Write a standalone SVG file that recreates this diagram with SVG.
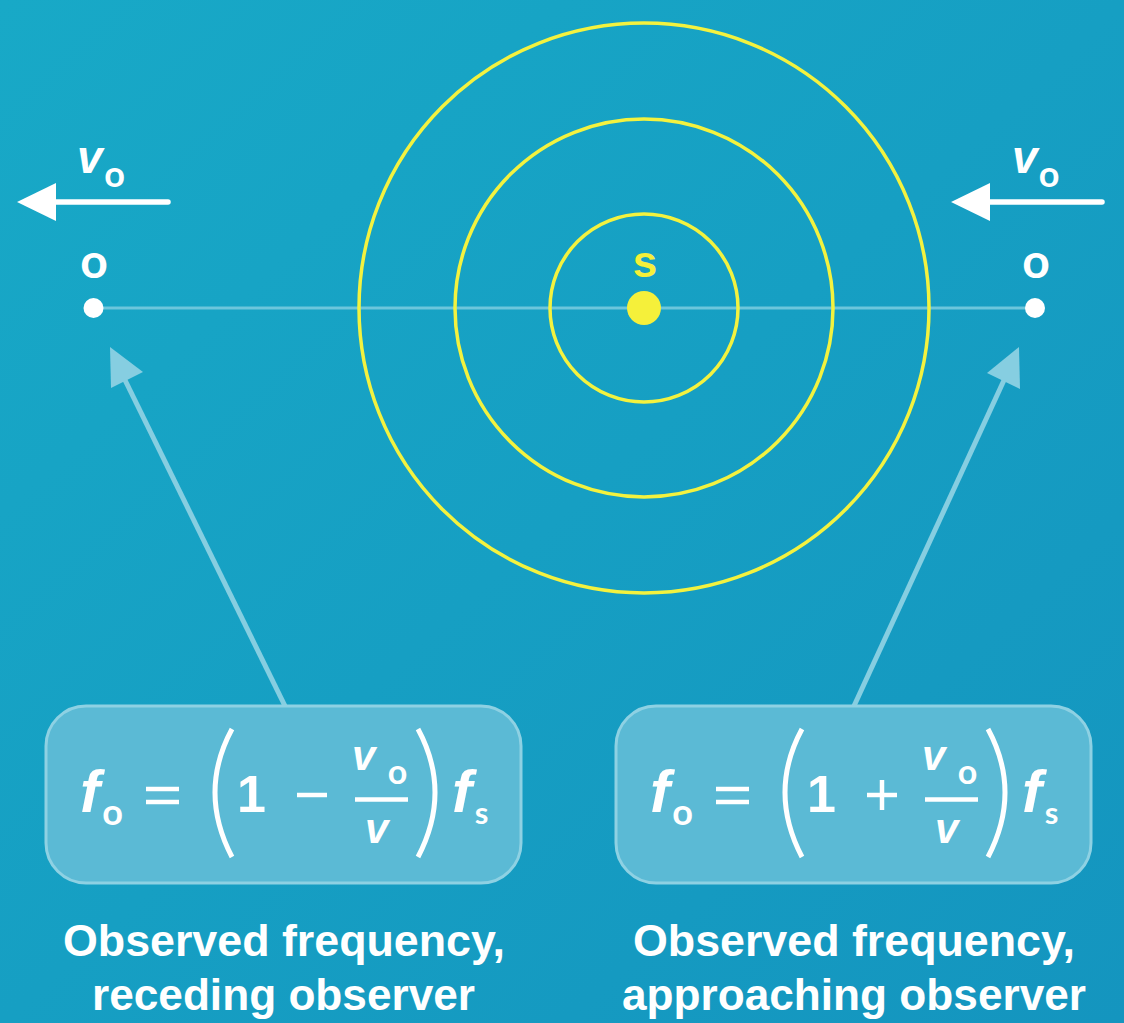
<svg xmlns="http://www.w3.org/2000/svg" width="1124" height="1023" viewBox="0 0 1124 1023">
<defs>
<linearGradient id="bg" x1="0" y1="0" x2="1" y2="1">
<stop offset="0" stop-color="#18a9c7"/>
<stop offset="1" stop-color="#1495bf"/>
</linearGradient>
<style>
.wave{fill:none;stroke:#f3f23f;stroke-width:3.5}
.ptr{stroke:#86cee1;stroke-width:5;fill:none}
.ptrhead{fill:#86cee1}
.vel{stroke:#ffffff;stroke-width:5.5;stroke-linecap:round;fill:none}
.box{fill:#5bbad5;stroke:#8ed1e3;stroke-width:3}
.t{font-family:"Liberation Sans",Arial,sans-serif;fill:#ffffff}
.it{font-style:italic;font-weight:bold}
.sub{font-family:Lato,"Liberation Sans",Arial,sans-serif;font-weight:bold;fill:#ffffff;text-anchor:middle}
.lbl{font-family:"Liberation Sans",Arial,sans-serif;font-weight:bold;font-size:44px;fill:#ffffff;text-anchor:middle}
.paren{fill:none;stroke:#ffffff;stroke-width:5;stroke-linecap:butt}
.bar{stroke:#ffffff;stroke-width:4.5}
</style>
</defs>
<rect width="1124" height="1023" fill="url(#bg)"/>

<g id="connectors">
<line x1="93" y1="308" x2="1035" y2="308" stroke="#6cc6dc" stroke-width="3"/>
<line class="ptr" x1="285" y1="706" x2="124" y2="378"/>
<polygon class="ptrhead" points="110,347 143,372 111,388"/>
<line class="ptr" x1="854" y1="706" x2="1005" y2="378"/>
<polygon class="ptrhead" points="1019,347 987,373 1020,389"/>
</g>

<g id="waves">
<circle class="wave" cx="644" cy="308" r="94"/>
<circle class="wave" cx="644" cy="308" r="189"/>
<circle class="wave" cx="644" cy="308" r="285"/>
</g>

<g id="source">
<circle cx="644" cy="308" r="17" fill="#f5f03a"/>
<text x="645" y="277" font-family="Liberation Sans,Arial,sans-serif" font-weight="bold" font-size="44" fill="#f5f03a" text-anchor="middle">s</text>
</g>

<g id="observer-left">
<circle cx="93.5" cy="308" r="10" fill="#ffffff"/>
<text class="sub" x="94" y="277.5" font-size="48">o</text>
<line class="vel" x1="168" y1="202" x2="52" y2="202"/>
<polygon points="17,202 56,183 56,221" fill="#ffffff"/>
<text class="t it" x="77" y="173" font-size="46">v</text>
<text class="sub" x="114.5" y="186.5" font-size="36">o</text>
</g>

<g id="observer-right">
<circle cx="1035" cy="308" r="10" fill="#ffffff"/>
<text class="sub" x="1036" y="277.5" font-size="48">o</text>
<line class="vel" x1="1102" y1="202" x2="986" y2="202"/>
<polygon points="951,202 990,183 990,221" fill="#ffffff"/>
<text class="t it" x="1012" y="173" font-size="46">v</text>
<text class="sub" x="1049" y="186.5" font-size="36">o</text>
</g>

<g id="formula-receding">
<rect class="box" x="46" y="706" width="475" height="177" rx="40"/>
<text class="t it" x="80" y="812" font-size="60">f</text>
<text class="sub" x="112.5" y="824.5" font-size="36">o</text>
<line class="bar" x1="146" y1="789" x2="179" y2="789"/>
<line class="bar" x1="146" y1="802" x2="179" y2="802"/>
<path class="paren" d="M232,729 Q198,792 232,857"/>
<text class="t" x="251.5" y="812" font-size="52" font-weight="bold" text-anchor="middle">1</text>
<line class="bar" x1="297" y1="795" x2="327" y2="795"/>
<text class="t it" x="352" y="770" font-size="42">v</text>
<text class="sub" x="397.5" y="783.5" font-size="34">o</text>
<line class="bar" x1="355" y1="799.5" x2="408" y2="799.5"/>
<text class="t it" x="365" y="843" font-size="42">v</text>
<path class="paren" d="M418,729 Q452,792 418,857"/>
<text class="t it" x="452" y="812" font-size="60">f</text>
<text class="sub" x="481.5" y="823.5" font-size="31">s</text>
</g>

<g id="formula-approaching">
<rect class="box" x="616" y="706" width="475" height="177" rx="40"/>
<text class="t it" x="650" y="812" font-size="60">f</text>
<text class="sub" x="682.5" y="824.5" font-size="36">o</text>
<line class="bar" x1="716" y1="789" x2="749" y2="789"/>
<line class="bar" x1="716" y1="802" x2="749" y2="802"/>
<path class="paren" d="M802,729 Q768,792 802,857"/>
<text class="t" x="821.5" y="812" font-size="52" font-weight="bold" text-anchor="middle">1</text>
<line class="bar" x1="867" y1="795" x2="897" y2="795"/>
<line class="bar" x1="882" y1="780" x2="882" y2="810"/>
<text class="t it" x="922" y="770" font-size="42">v</text>
<text class="sub" x="967.5" y="783.5" font-size="34">o</text>
<line class="bar" x1="925" y1="799.5" x2="978" y2="799.5"/>
<text class="t it" x="935" y="843" font-size="42">v</text>
<path class="paren" d="M988,729 Q1022,792 988,857"/>
<text class="t it" x="1022" y="812" font-size="60">f</text>
<text class="sub" x="1051.5" y="823.5" font-size="31">s</text>
</g>

<g id="label-receding">
<text class="lbl" x="284" y="956" textLength="442" lengthAdjust="spacingAndGlyphs">Observed frequency,</text>
<text class="lbl" x="283.5" y="1010" textLength="383" lengthAdjust="spacingAndGlyphs">receding observer</text>
</g>
<g id="label-approaching">
<text class="lbl" x="854" y="956" textLength="442" lengthAdjust="spacingAndGlyphs">Observed frequency,</text>
<text class="lbl" x="854" y="1010" textLength="464" lengthAdjust="spacingAndGlyphs">approaching observer</text>
</g>
</svg>
